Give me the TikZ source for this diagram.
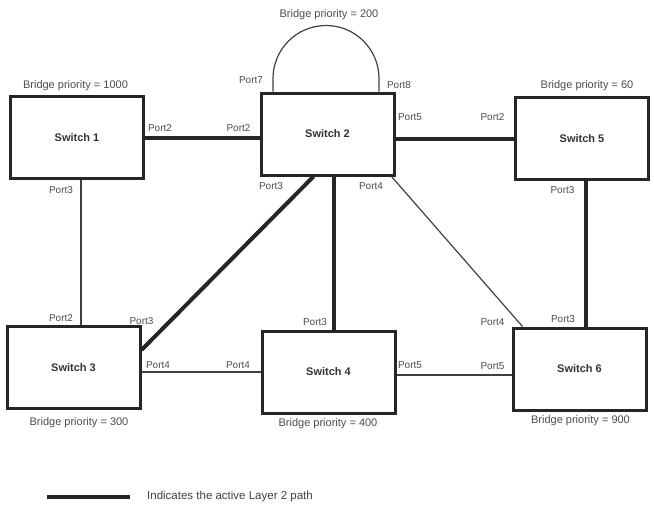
\documentclass[tikz,border=0pt]{standalone}
\usepackage{fontspec}
\setmainfont{Liberation Sans}
\usepackage{tikz}
\usetikzlibrary{positioning,calc}

\begin{document}
\begin{tikzpicture}[x=1pt,y=-1pt,font=\fontsize{10}{12}\selectfont,
  switchbox/.style={draw=black!85,line width=3pt,minimum width=133pt,minimum height=82pt,
    font=\fontsize{11}{13}\selectfont\bfseries,text=black!80},
  portlbl/.style={inner sep=0pt,text=black!70},
  prio/.style={inner sep=0pt,text=black!70,font=\fontsize{11}{13}\selectfont},
  activepath/.style={line width=4pt,draw=black!85},
  idlepath/.style={line width=1.2pt,draw=black!75}]
\path[use as bounding box] (0,0) rectangle (654,506);
% switches
\node[switchbox] (s1) at (77,137.5) {Switch 1};
\node[switchbox] (s2) at (327.5,134) {Switch 2};
\node[switchbox] (s5) at (582,138.5) {Switch 5};
\node[switchbox] (s3) at (73.5,367.5) {Switch 3};
\node[switchbox] (s4) at (328.5,372) {Switch 4};
\node[switchbox] (s6) at (579.5,369) {Switch 6};
% bridge priorities
\foreach \nm/\x/\y/\val in {bp1/75.5/86/1000,bp2/329/15/200,bp5/587/86/60,
    bp3/79/423/300,bp4/328/424/400,bp6/580.5/421/900}
  \node[prio] (\nm) at (\x,\y) {Bridge priority = \val};
% ports
\foreach \nm/\x/\y/\lbl in {p12/160/128/Port2,p22/238.5/128/Port2,p27/251/80/Port7,
    p28/399/85/Port8,p25/410/117/Port5,p52/492.5/117/Port2,p23/271/186/Port3,
    p24/371/186/Port4,p13/61/190/Port3,p53/562.5/190/Port3,p32/61/318/Port2,
    p33/141.5/321/Port3,p34/158/365/Port4,p44/238/365/Port4,p43/315/322/Port3,
    p45/410/365/Port5,p65/492.5/366/Port5,p64/492.5/322/Port4,p63/563/319/Port3}
  \node[portlbl] (\nm) at (\x,\y) {\lbl};
% links
\draw[activepath] (s1.east) -- (s1.east -| s2.west);
\draw[activepath] (s5.west -| s2.east) -- (s5.west);
\draw[activepath] ([xshift=-14pt]s2.south) -- ([yshift=17.5pt]s3.east);
\draw[activepath] ([xshift=6.5pt]s2.south) -- ([xshift=6.5pt]s2.south |- s4.north);
\draw[activepath] ([xshift=4pt]s5.south) -- ([xshift=4pt]s5.south |- s6.north);
\draw[idlepath] ([xshift=4pt]s1.south) -- ([xshift=4pt]s1.south |- s3.north);
\draw[idlepath] ([xshift=-4pt]s2.south east) -- ([xshift=11pt]s6.north west);
\draw[idlepath] (s4.west -| s3.east) -- (s4.west);
\draw[idlepath] ([yshift=-3pt]s4.east) -- ([yshift=-3pt]s4.east -| s6.west);
% self loop port7 -> port8
\coordinate (loopa) at ([xshift=-54.5pt]s2.north);
\coordinate (loopb) at ([xshift=51.5pt]s2.north);
\draw[idlepath] (loopa) -- ++(0,-13) arc[start angle=180,end angle=360,radius=53] -- (loopb);
% legend
\coordinate (lg) at (47,497);
\node[inner sep=0pt,anchor=west,text=black!75,font=\fontsize{11.5}{13}\selectfont] (lgtxt) at (147,497)
  {Indicates the active Layer 2 path};
\draw[activepath] (lg) -- ([xshift=-17pt]lgtxt.west);
\end{tikzpicture}
\end{document}
